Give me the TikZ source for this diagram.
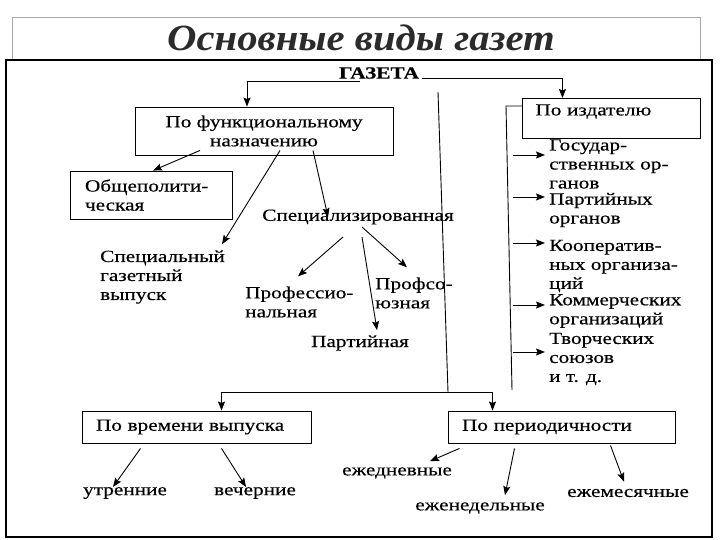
\documentclass[tikz,border=0pt]{standalone}
\usepackage{fontspec}
\setmainfont{Liberation Serif}[FakeStretch=1.25, FakeBold=0.4]
\newfontfamily\titlefont{Liberation Serif}[FakeStretch=1.1]
\usetikzlibrary{arrows.meta, positioning, calc}
\definecolor{titlegray}{HTML}{2B2B2B}
\definecolor{framegray}{HTML}{A8A8A8}

\begin{document}
\begin{tikzpicture}[x=1pt, y=-1pt,
  font=\fontsize{17}{19}\selectfont,
  box/.style={draw, line width=0.9pt, inner sep=0pt},
  lbl/.style={inner sep=0pt, align=left},
  arr/.style={-{Stealth[length=9pt, width=7pt, inset=1.5pt]}, line width=0.9pt},
  conn/.style={line width=0.9pt}]
  \useasboundingbox[fill=white] (0,0) rectangle (720,540);
  % Frames
  \draw[framegray, line width=0.8pt] (12,60) |- (700,17) -- (700,60);
  \draw[line width=1.2pt] (6,60) rectangle (712,537);
  % Title
  \node[titlegray, font=\titlefont\fontsize{37}{42}\selectfont\bfseries\itshape] (title) at (361,38) {Основные виды газет};
  % Root
  \node[lbl, font=\fontsize{17}{19}\selectfont\bfseries] (gazeta) at (379,73) {ГАЗЕТА};
  % By function
  \node[box, minimum width=258, minimum height=48, align=center] (func) at (264,131) {По функциональному\\назначению};
  \node[box, minimum width=162, minimum height=48, text width=132, align=left] (gen) at (151,195) {Общеполити-\\ческая};
  \node[lbl] (spec) at (358,217) {Специализированная};
  \node[lbl, anchor=west] (issue) at (100,277) {Специальный\\газетный\\выпуск};
  \node[lbl, anchor=west] (prof) at (245,302) {Профессио-\\нальная};
  \node[lbl, anchor=west] (union) at (375,293) {Профсо-\\юзная};
  \node[lbl] (party) at (360,343) {Партийная};
  % By publisher
  \node[box, anchor=north west, text width=152, text height=17, text depth=23, inner xsep=13pt, align=left] (pub) at (522,98) {По издателю};
  \node[lbl, anchor=west] (pub1) at (549,164) {Государ-\\ственных ор-\\ганов};
  \node[lbl, anchor=west] (pub2) at (549,210) {Партийных\\органов};
  \node[lbl, anchor=west] (pub3) at (549,266) {Кооператив-\\ных организа-\\ций};
  \node[lbl, anchor=west] (pub4) at (549,311) {Коммерческих\\организаций};
  \node[lbl, anchor=west] (pub5) at (549,359) {Творческих\\союзов\\и т. д.};
  % By time and periodicity
  \node[box, minimum width=229, minimum height=32, text width=201, align=left] (time) at (196.5,427) {По времени выпуска};
  \node[box, minimum width=227, minimum height=32, text width=199, align=left] (period) at (561.5,427) {По периодичности};
  \node[lbl] (morning) at (125,493) {утренние};
  \node[lbl] (evening) at (255,493) {вечерние};
  \node[lbl] (daily) at (397,473) {ежедневные};
  \node[lbl] (weekly) at (480,508) {еженедельные};
  \node[lbl] (monthly) at (628,493) {ежемесячные};
  % Side lines
  \coordinate (trunk) at (438,92);
  \coordinate (split) at (448,392);
  \coordinate (side) at (506,106);
  \coordinate (sideend) at (512,390);
  % Connectors from the root
  \draw[arr] ([xshift=-19pt,yshift=-3pt]gazeta.south) -| ([xshift=-17pt]func.north);
  \draw[arr] ([xshift=3pt,yshift=-5pt]gazeta.east) -| ([xshift=-49pt]pub.north);
  \draw[conn] (trunk) -- (split);
  \draw[arr] (split) -| ([xshift=25pt]time.north);
  \draw[arr] (split) -| ([xshift=-69pt]period.north);
  % Function branches
  \draw[arr] ([xshift=-64pt,yshift=5pt]func.south) -- ([xshift=2pt]gen.north);
  \draw[arr] ([xshift=16pt,yshift=5pt]func.south) -- ([xshift=-3pt,yshift=6pt]issue.north east);
  \draw[arr] ([xshift=49pt,yshift=5pt]func.south) -- ([xshift=-30pt]spec.center);
  \draw[arr] ([xshift=-15pt,yshift=-20pt]spec.center) -- ([xshift=53pt,yshift=10pt]prof.north west);
  \draw[arr] ([xshift=4pt,yshift=-20pt]spec.center) -- ([xshift=17pt,yshift=5pt]party.north);
  \draw[arr] ([xshift=4pt,yshift=-10pt]spec.center) -- ([xshift=32pt,yshift=10pt]union.north west);
  % Publisher branches
  \draw[conn] ([yshift=-8pt]pub.north west) -- (side) -- (sideend);
  \foreach \n/\y in {pub1/155, pub2/197, pub3/243, pub4/305, pub5/352}
    \draw[arr] (513,\y) -- ([xshift=-4pt]\n.west |- 0,\y);
  % Time branches
  \draw[arr] ([xshift=-56pt,yshift=-5pt]time.south) -- ([xshift=-12pt]morning.north);
  \draw[arr] ([xshift=25pt,yshift=-5pt]time.south) -- ([xshift=-9pt]evening.north);
  % Periodicity branches
  \draw[arr] ([xshift=-102pt,yshift=-5pt]period.south) -- ([xshift=33pt,yshift=6pt]daily.north);
  \draw[arr] ([xshift=-47pt,yshift=-5pt]period.south) -- ([xshift=25pt,yshift=7pt]weekly.north);
  \draw[arr] ([xshift=49pt,yshift=-2pt]period.south) -- ([xshift=-4pt,yshift=7pt]monthly.north);
\end{tikzpicture}
\end{document}
